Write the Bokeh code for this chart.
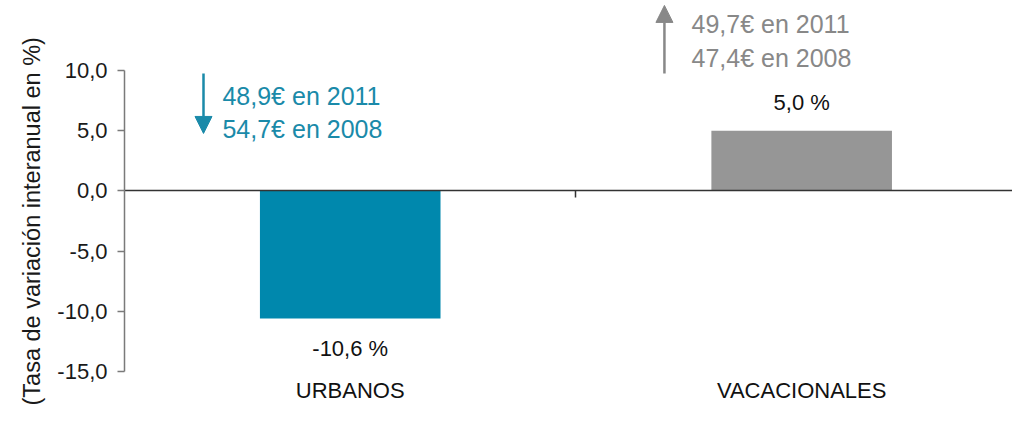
from bokeh.plotting import figure
from bokeh.models import (Range1d, LinearAxis, FixedTicker, ColumnDataSource,
                          LabelSet, Label, Arrow, NormalHead, Title)
from bokeh.core.properties import value
from bokeh.embed import file_html
from bokeh.resources import INLINE

# ---- data ----
categories = ["URBANOS", "VACACIONALES"]
values = [-10.6, 5.0]
price_2011 = [48.9, 49.7]
price_2008 = [54.7, 47.4]
y_ticks = [-15, -10, -5, 0, 5, 10]
y_title = "(Tasa de variación interanual en %)"

def es(v):
    return f"{v:.1f}".replace(".", ",")

bar_colors = ["#0088ad", "#969696"]
text_colors = ["#1a8aa9", "#888888"]
FONT = "Liberation Sans"

p = figure(width=1012, height=406, output_backend="svg", toolbar_location=None,
           x_range=Range1d(0, 1.967), y_range=Range1d(-15.0, 15.81),
           x_axis_location=None, y_axis_location=None,
           min_border_left=124, min_border_right=0, min_border_top=0,
           min_border_bottom=35)
p.outline_line_color = None
p.xgrid.visible = False
p.ygrid.visible = False
p.background_fill_color = "white"
p.border_fill_color = "white"

xs = [i + 0.5 for i in range(len(categories))]
src = ColumnDataSource(dict(
    x=xs, v=values, color=bar_colors,
    lbl=[es(v) + " %" for v in values],
    yoff=[28 if v > 0 else -30 for v in values],
))
p.vbar(x="x", top="v", bottom=0, width=0.4, fill_color="color",
       line_color=None, source=src)

labels = LabelSet(x="x", y="v", text="lbl", y_offset="yoff", source=src,
                  text_align="center", text_baseline="middle",
                  text_font=value(FONT), text_font_size=value("22px"),
                  text_color="#111111")
p.add_layout(labels)

# y axis
yaxis = LinearAxis(ticker=FixedTicker(ticks=y_ticks), bounds=(-15, 10),
                   major_label_overrides={t: es(t) for t in y_ticks},
                   axis_line_color="#7a7a7a", axis_line_width=1.5,
                   major_tick_line_color="#7a7a7a", major_tick_line_width=1.5,
                   major_tick_out=7, major_tick_in=0,
                   minor_tick_out=0, minor_tick_in=0,
                   major_label_standoff=10,
                   major_label_text_font=FONT, major_label_text_font_size="22px",
                   major_label_text_color="#1a1a1a")
p.add_layout(yaxis, "left")

# y title, starting below the axis bottom like the reference
p.add_layout(Title(text=y_title, align="left", offset=-34, standoff=20,
                   text_font=FONT, text_font_size="23.5px",
                   text_font_style="normal", text_color="#1a1a1a"), "left")

# category labels at bottom
xaxis = LinearAxis(ticker=FixedTicker(ticks=xs),
                   major_label_overrides={x: c for x, c in zip(xs, categories)},
                   axis_line_color=None, major_tick_line_color=None,
                   minor_tick_line_color=None, major_tick_out=0, major_tick_in=0,
                   major_label_standoff=6,
                   major_label_text_font=FONT, major_label_text_font_size="22px",
                   major_label_text_color="#111111")
p.add_layout(xaxis, "below")

# zero line axis with category separator tick
seps = [float(i) for i in range(1, len(categories) + 1)]
zaxis = LinearAxis(fixed_location=0, ticker=FixedTicker(ticks=seps),
                   major_label_overrides={s: "" for s in seps},
                   axis_line_color="#333333", axis_line_width=1.5,
                   major_tick_line_color="#333333", major_tick_line_width=1.5,
                   major_tick_out=7, major_tick_in=0,
                   minor_tick_out=0, minor_tick_in=0)
p.add_layout(zaxis, "below")

# annotations
arrow_x = [0.175, 1.196]
arrow_base = [9.75, 9.75]
arrow_tip = [4.77, 15.4]
text_x = [0.217, 1.256]
text_y_top = [7.92, 13.82]
text_y_bot = [5.18, 11.0]
for i in range(len(categories)):
    col = text_colors[i]
    p.add_layout(Arrow(x_start=arrow_x[i], y_start=arrow_base[i],
                       x_end=arrow_x[i], y_end=arrow_tip[i],
                       line_color=col, line_width=2.5,
                       end=NormalHead(size=17, fill_color=col, line_color=col)))
    p.add_layout(Label(x=text_x[i], y=text_y_top[i],
                       text=es(price_2011[i]) + "€ en 2011",
                       text_font=FONT, text_font_size="25px", text_color=col,
                       text_baseline="middle"))
    p.add_layout(Label(x=text_x[i], y=text_y_bot[i],
                       text=es(price_2008[i]) + "€ en 2008",
                       text_font=FONT, text_font_size="25px", text_color=col,
                       text_baseline="middle"))

open("out.html", "w").write(file_html(p, INLINE))
